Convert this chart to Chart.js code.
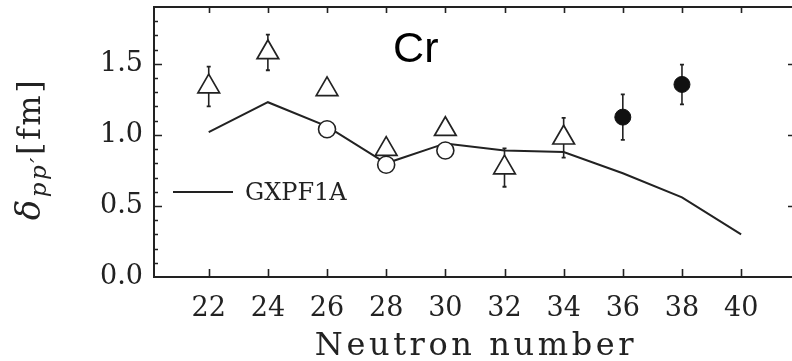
<!DOCTYPE html>
<html lang="en">

<head>
    <meta charset="UTF-8">
    <title>Cr delta pp'</title>
    <style>
        html, body { margin: 0; padding: 0; background: #fff; overflow: hidden; }
        #wrap { width: 792px; height: 361px; }
    </style>
</head>

<body>
    <div id="wrap">
        <canvas id="crChart" width="792" height="361"></canvas>
    </div>

    <script src="https://cdn.jsdelivr.net/npm/chart.js"></script>
    <script>
        // shell model curve
        const neutrons = [22, 24, 26, 28, 30, 32, 34, 36, 38, 40];
        const gxpf1a = [1.02, 1.23, 1.06, 0.80, 0.94, 0.89, 0.88, 0.73, 0.56, 0.30];

        // open circles
        const circleN = [26, 28, 30];
        const circleVal = [1.04, 0.79, 0.89];

        // open triangles with errors
        const triN = [22, 24, 26, 28, 30, 32, 34];
        const triVal = [1.34, 1.58, 1.32, 0.90, 1.04, 0.77, 0.98];
        const triErr = [0.14, 0.125, 0, 0, 0, 0.135, 0.14];

        // filled circles with errors
        const dotN = [36, 38];
        const dotVal = [1.125, 1.355];
        const dotErr = [0.16, 0.14];

        const xTicks = [22, 24, 26, 28, 30, 32, 34, 36, 38, 40];
        const yTicks = [0.0, 0.5, 1.0, 1.5];

        const ink = '#222';
        const serif = 'DejaVu Serif';

        const pts = (xs, ys) => xs.map((x, i) => ({ x: x, y: ys[i] }));

        // vertical error bars with small caps, drawn under the markers
        const errorBars = {
            id: 'errorBars',
            beforeDatasetsDraw(chart) {
                const ctx = chart.ctx;
                const xs = chart.scales.x, ys = chart.scales.y;
                const sets = [[triN, triVal, triErr], [dotN, dotVal, dotErr]];
                ctx.save();
                ctx.strokeStyle = ink;
                sets.forEach(([n, v, e]) => {
                    n.forEach((x, i) => {
                        if (!e[i]) return;
                        const px = xs.getPixelForValue(x);
                        const y1 = ys.getPixelForValue(v[i] + e[i]);
                        const y2 = ys.getPixelForValue(v[i] - e[i]);
                        ctx.lineWidth = 1.6;
                        ctx.beginPath();
                        ctx.moveTo(px, y1);
                        ctx.lineTo(px, y2);
                        ctx.stroke();
                        ctx.lineWidth = 1.8;
                        ctx.beginPath();
                        ctx.moveTo(px - 2, y1);
                        ctx.lineTo(px + 2, y1);
                        ctx.moveTo(px - 2, y2);
                        ctx.lineTo(px + 2, y2);
                        ctx.stroke();
                    });
                });
                ctx.restore();
            }
        };

        // frame, inward ticks, legend, labels and axis titles
        const frame = {
            id: 'frame',
            afterDraw(chart) {
                const ctx = chart.ctx;
                const a = chart.chartArea;
                const xs = chart.scales.x, ys = chart.scales.y;
                ctx.save();
                ctx.strokeStyle = ink;

                // top border
                ctx.lineWidth = 2;
                ctx.beginPath();
                ctx.moveTo(a.left, a.top);
                ctx.lineTo(a.right, a.top);
                ctx.stroke();

                // x ticks, bottom and top
                ctx.lineWidth = 1.6;
                ctx.beginPath();
                xs.ticks.forEach(t => {
                    const px = Math.round(xs.getPixelForValue(t.value)) + 0.5;
                    ctx.moveTo(px, a.bottom);
                    ctx.lineTo(px, a.bottom - 8);
                    ctx.moveTo(px, a.top);
                    ctx.lineTo(px, a.top + 6);
                });
                ctx.stroke();

                // y ticks: majors on both sides, minors every 0.1 on the left
                ctx.beginPath();
                for (let k = 1; k < 19; k++) {
                    const v = k / 10;
                    const py = Math.round(ys.getPixelForValue(v)) + 0.5;
                    const major = k % 5 === 0;
                    ctx.moveTo(a.left, py);
                    ctx.lineTo(a.left + (major ? 8 : 4), py);
                    if (major) {
                        ctx.moveTo(a.right, py);
                        ctx.lineTo(a.right - 4, py);
                    }
                }
                ctx.stroke();

                // legend entry
                const ds = chart.data.datasets[0];
                const ly = a.top + 185;
                ctx.lineWidth = ds.borderWidth;
                ctx.strokeStyle = ds.borderColor;
                ctx.beginPath();
                ctx.moveTo(a.left + 19, ly);
                ctx.lineTo(a.left + 79, ly);
                ctx.stroke();
                ctx.fillStyle = ink;
                ctx.font = '24px "' + serif + '"';
                ctx.textBaseline = 'middle';
                ctx.textAlign = 'left';
                ctx.fillText(ds.label, a.left + 91, ly + 2);

                // element label
                ctx.font = '43px "Liberation Sans", Arial, sans-serif';
                ctx.textAlign = 'center';
                ctx.textBaseline = 'alphabetic';
                ctx.fillStyle = '#000';
                ctx.fillText('Cr', xs.getPixelForValue(29.0), ys.getPixelForValue(1.51));

                // x axis title
                ctx.fillStyle = ink;
                ctx.font = '32px "' + serif + '"';
                ctx.letterSpacing = '3.6px';
                ctx.fillText('Neutron number', (a.left + a.right) / 2 + 3, 355);
                ctx.letterSpacing = '0px';

                // y axis title, rotated, with italic subscript
                const parts = [
                    { t: 'δ', f: 'italic 34px "' + serif + '"', dy: 0 },
                    { t: 'pp′', f: 'italic 23px "' + serif + '"', dy: 6 },
                    { t: '[fm]', f: '32px "' + serif + '"', dy: 0 }
                ];
                ctx.letterSpacing = '2.5px';
                let total = 0;
                parts.forEach(p => { ctx.font = p.f; p.w = ctx.measureText(p.t).width; total += p.w; });
                ctx.translate(40, 149);
                ctx.rotate(-Math.PI / 2);
                ctx.textAlign = 'left';
                let cx = -total / 2;
                parts.forEach(p => {
                    ctx.font = p.f;
                    ctx.fillText(p.t, cx, p.dy);
                    cx += p.w;
                });
                ctx.restore();
            }
        };

        const config = {
            type: 'scatter',
            data: {
                datasets: [{
                    label: 'GXPF1A',
                    type: 'line',
                    data: pts(neutrons, gxpf1a),
                    borderColor: ink,
                    borderWidth: 2,
                    pointRadius: 0,
                    tension: 0,
                    order: 4
                }, {
                    label: 'circles',
                    data: pts(circleN, circleVal),
                    pointStyle: 'circle',
                    pointRadius: 8.5,
                    backgroundColor: '#fff',
                    borderColor: ink,
                    borderWidth: 1.6,
                    order: 3
                }, {
                    label: 'triangles',
                    data: pts(triN, triVal),
                    pointStyle: 'triangle',
                    pointRadius: 12.5,
                    backgroundColor: '#fff',
                    borderColor: ink,
                    borderWidth: 1.7,
                    order: 2
                }, {
                    label: 'filled',
                    data: pts(dotN, dotVal),
                    pointStyle: 'circle',
                    pointRadius: 8,
                    backgroundColor: '#111',
                    borderColor: '#111',
                    borderWidth: 1,
                    order: 1
                }]
            },
            options: {
                responsive: false,
                animation: false,
                events: [],
                layout: {
                    autoPadding: false,
                    padding: { top: 7, right: 0, bottom: 0, left: 0 }
                },
                scales: {
                    x: {
                        type: 'linear',
                        min: 20.15,
                        max: 41.72,
                        afterFit: s => {
                            s.height = 84;
                            s.paddingLeft = 0;
                            s.paddingRight = 0;
                        },
                        afterBuildTicks: s => { s.ticks = xTicks.map(v => ({ value: v })); },
                        grid: { display: false, drawTicks: false },
                        border: { display: true, color: ink, width: 2 },
                        ticks: {
                            autoSkip: false,
                            maxRotation: 0,
                            padding: 16,
                            color: ink,
                            font: { family: serif, size: 27 }
                        }
                    },
                    y: {
                        type: 'linear',
                        min: 0,
                        max: 1.9,
                        afterFit: s => {
                            s.width = 154;
                            s.paddingTop = 0;
                            s.paddingBottom = 0;
                        },
                        afterBuildTicks: s => { s.ticks = yTicks.map(v => ({ value: v })); },
                        grid: { display: false, drawTicks: false },
                        border: { display: true, color: ink, width: 2 },
                        ticks: {
                            padding: 11,
                            color: ink,
                            font: { family: serif, size: 27 },
                            callback: v => v.toFixed(1)
                        }
                    }
                },
                plugins: {
                    legend: { display: false },
                    tooltip: { enabled: false }
                }
            },
            plugins: [errorBars, frame]
        };

        const crChart = new Chart(document.getElementById('crChart'), config);
    </script>
</body>

</html>
